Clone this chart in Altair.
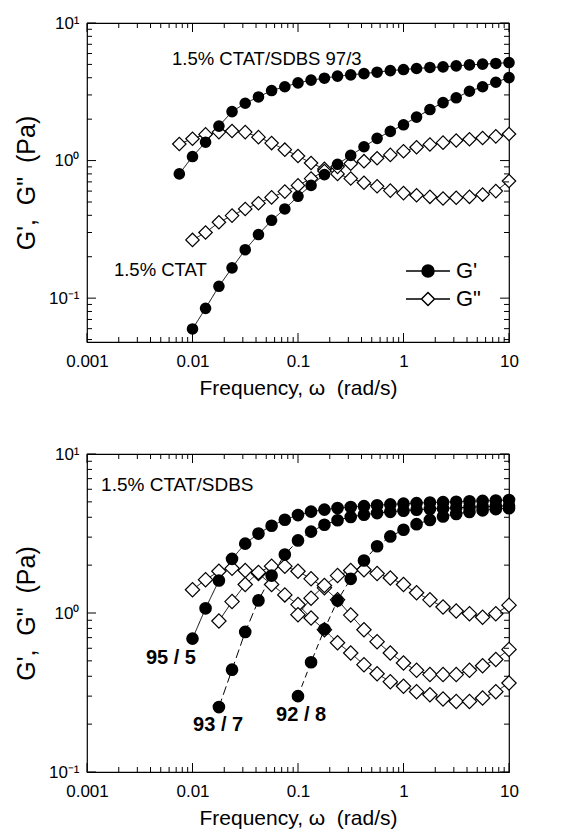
import altair as alt
import pandas as pd

FONT = "Liberation Sans"

# Angular frequencies (rad/s) of the measurement grid
FREQ = [0.0075, 0.01, 0.0133, 0.0178, 0.0237, 0.0316, 0.0422, 0.0562, 0.075, 0.1,
        0.133, 0.178, 0.237, 0.316, 0.422, 0.562, 0.75, 1.0, 1.33, 1.78, 2.37, 3.16,
        4.22, 5.62, 7.5, 10.0]

# ---- top panel ----
SDBS97_GP = [0.80, 1.07, 1.36, 1.78, 2.27, 2.61, 2.90, 3.23, 3.44, 3.67, 3.84, 3.97, 4.11,
             4.20, 4.29, 4.39, 4.51, 4.59, 4.67, 4.75, 4.80, 4.88, 4.96, 5.02, 5.08, 5.16]
SDBS97_GPP = [1.32, 1.44, 1.55, 1.61, 1.64, 1.61, 1.48, 1.34, 1.20, 1.08, 0.96, 0.87, 0.80,
              0.74, 0.69, 0.65, 0.605, 0.58, 0.56, 0.545, 0.53, 0.537, 0.545, 0.566, 0.60, 0.71]
CTAT_GP = [0.0597, 0.0843, 0.122, 0.166, 0.225, 0.290, 0.368, 0.445, 0.55, 0.66, 0.79, 0.94,
           1.09, 1.26, 1.45, 1.63, 1.82, 2.07, 2.35, 2.64, 2.86, 3.19, 3.44, 3.71, 4.01]
CTAT_GPP = [0.265, 0.30, 0.356, 0.398, 0.445, 0.49, 0.54, 0.595, 0.66, 0.74, 0.84, 0.90,
            0.95, 0.99, 1.04, 1.10, 1.17, 1.25, 1.31, 1.35, 1.40, 1.43, 1.46, 1.50, 1.56]

# ---- bottom panel ----
S95_GP = [0.69, 1.07, 1.60, 2.19, 2.73, 3.16, 3.54, 3.86, 4.13, 4.34, 4.47, 4.57, 4.64,
          4.70, 4.76, 4.82, 4.87, 4.91, 4.95, 4.98, 5.01, 5.04, 5.07, 5.10, 5.13]
S95_GPP = [1.40, 1.62, 1.83, 1.91, 1.85, 1.77, 1.51, 1.30, 1.13, 0.93, 0.785, 0.65, 0.56,
           0.473, 0.415, 0.37, 0.346, 0.32, 0.306, 0.288, 0.278, 0.278, 0.292, 0.32, 0.363]
S93_GP = [0.256, 0.44, 0.76, 1.20, 1.72, 2.33, 2.86, 3.25, 3.59, 3.83, 4.02, 4.15, 4.25,
          4.33, 4.40, 4.46, 4.51, 4.55, 4.59, 4.63, 4.67, 4.70, 4.73]
S93_GPP = [0.89, 1.18, 1.51, 1.80, 1.97, 1.97, 1.83, 1.64, 1.44, 1.21, 0.97, 0.785, 0.66,
           0.56, 0.485, 0.436, 0.41, 0.41, 0.41, 0.436, 0.466, 0.51, 0.59]
S92_GP = [0.30, 0.49, 0.79, 1.20, 1.64, 2.14, 2.63, 3.03, 3.34, 3.62, 3.85, 4.05, 4.20,
          4.32, 4.42, 4.50, 4.56]
S92_GPP = [0.976, 1.24, 1.49, 1.72, 1.85, 1.87, 1.77, 1.66, 1.51, 1.34, 1.21, 1.09, 1.03,
           0.99, 0.94, 0.99, 1.12]

TOP_CURVES = [("97/3", "G1", "solid", 0, SDBS97_GP), ("97/3", "G2", "solid", 0, SDBS97_GPP),
              ("CTAT", "G1", "solid", 1, CTAT_GP), ("CTAT", "G2", "solid", 1, CTAT_GPP)]
BOT_CURVES = [("95/5", "G1", "solid", 1, S95_GP), ("95/5", "G2", "solid", 1, S95_GPP),
              ("93/7", "G1", "long", 3, S93_GP), ("93/7", "G2", "solid", 3, S93_GPP),
              ("92/8", "G1", "short", 9, S92_GP), ("92/8", "G2", "solid", 9, S92_GPP)]

# annotations (text, frequency, modulus)
TOP_TEXT = [("1.5% CTAT/SDBS 97/3", 0.0064, 5.43), ("1.5% CTAT", 0.0018, 0.161)]
BOT_TEXT = [("1.5% CTAT/SDBS", 0.00136, 6.38)]
BOT_BOLD = [("95 / 5", 0.00625, 0.52), ("93 / 7", 0.0175, 0.198), ("92 / 8", 0.107, 0.228)]

LEGEND_KEYS = ["G'", 'G"']

X_MAJOR = [0.001, 0.01, 0.1, 1, 10]
X_MINOR = [m * 10.0 ** e for e in (-3, -2, -1, 0) for m in range(2, 10)]
Y_MAJOR = [0.1, 1, 10]
Y_MINOR = [m * 10.0 ** e for e in (-2, -1, 0) for m in range(2, 10)]

W = 422
MAJ, MIN = 9, 5
NB = "\u00a0"

Y_LABELS = "datum.value == 10 ? '10\u00b9' : (datum.value == 1 ? '10\u2070' : '10\u207b\u00b9')"
X_TITLE = "Frequency, \u03c9" + NB + NB + "(rad/s)"
Y_TITLE = "G'," + NB + NB + "G\"" + NB + NB + "(Pa)"

CIRCLE_PATH = "M-2.2,0H-0.6M0.6,0H2.2M0.6,0A0.6,0.6,0,1,1,-0.6,0A0.6,0.6,0,1,1,0.6,0Z"
DIAMOND_PATH = "M-2.2,0H-0.65M0.65,0H2.2M0,-0.65L0.65,0L0,0.65L-0.65,0Z"


def build_df(curves):
    rows = []
    for name, mod, dash, start, vals in curves:
        for f, v in zip(FREQ[start:], vals):
            rows.append({"x": f, "y": v, "curve": name + mod, "mod": mod, "dash": dash})
    return pd.DataFrame(rows)


def panel(curves, texts, bold, ydom, H, legend, csize, dsize, tsize):
    df = build_df(curves)
    xs = alt.Scale(type="log", domain=[0.001, 10], nice=False)
    ys = alt.Scale(type="log", domain=ydom, nice=False)
    xax = alt.Axis(values=X_MAJOR, labelExpr="format(datum.value, '~g')", title=X_TITLE)
    yax = alt.Axis(values=Y_MAJOR, labelExpr=Y_LABELS, title=Y_TITLE)
    X = alt.X("x:Q", scale=xs, axis=xax)
    Y = alt.Y("y:Q", scale=ys, axis=yax)
    base = alt.Chart(df)
    lines = base.mark_line(color="black", strokeWidth=1).encode(
        x=X, y=Y, detail="curve:N",
        strokeDash=alt.StrokeDash("dash:N", scale=alt.Scale(domain=["solid", "long", "short"],
                                  range=[[1, 0], [9, 4], [6, 4]]), legend=None))
    diamonds = base.transform_filter("datum.mod == 'G2'").mark_point(
        shape="diamond", filled=True, fill="white", stroke="black", strokeWidth=1.2,
        size=dsize, opacity=1).encode(x=X, y=Y)
    circles = base.transform_filter("datum.mod == 'G1'").mark_circle(
        color="black", size=csize, opacity=1).encode(x=X, y=Y)
    layers = [lines, diamonds, circles]

    tdf = pd.DataFrame(texts, columns=["label", "x", "y"])
    layers.append(alt.Chart(tdf).mark_text(align="left", baseline="middle", font=FONT,
                                           fontSize=tsize, color="black").encode(
        x=X, y=Y, text="label:N"))
    if bold:
        bdf = pd.DataFrame(bold, columns=["label", "x", "y"])
        layers.append(alt.Chart(bdf).mark_text(align="center", baseline="middle", font=FONT,
                                               fontSize=20, fontWeight="bold",
                                               color="black").encode(
            x=X, y=Y, text="label:N"))

    # inward ticks on all four sides
    ymin, ymax = ydom
    xmaj = pd.DataFrame({"x": X_MAJOR})
    xmin = pd.DataFrame({"x": X_MINOR})
    ymaj = pd.DataFrame({"y": [v for v in Y_MAJOR if ymin <= v <= ymax]})
    ymn = pd.DataFrame({"y": [v for v in Y_MINOR if ymin <= v <= ymax]})
    for d, L in ((xmaj, MAJ), (xmin, MIN)):
        layers.append(alt.Chart(d).mark_rule(color="black", strokeWidth=1).encode(
            x=X, y=alt.value(H), y2=alt.value(H - L)))
        layers.append(alt.Chart(d).mark_rule(color="black", strokeWidth=1).encode(
            x=X, y=alt.value(0), y2=alt.value(L)))
    for d, L in ((ymaj, MAJ), (ymn, MIN)):
        layers.append(alt.Chart(d).mark_rule(color="black", strokeWidth=1).encode(
            y=Y, x=alt.value(0), x2=alt.value(L)))
        layers.append(alt.Chart(d).mark_rule(color="black", strokeWidth=1).encode(
            y=Y, x=alt.value(W), x2=alt.value(W - L)))

    if legend:
        ldf = pd.DataFrame({"key": LEGEND_KEYS})
        leg = alt.Legend(orient="none", legendX=330, legendY=237, title=None, symbolSize=400,
                         symbolOpacity=1, labelFont=FONT, labelFontSize=22, labelColor="black",
                         labelOffset=17, rowPadding=6, padding=0)
        layers.append(alt.Chart(ldf).mark_point(filled=True, opacity=0, stroke="black",
                                                strokeWidth=1.2).encode(
            shape=alt.Shape("key:N", scale=alt.Scale(domain=LEGEND_KEYS,
                            range=[CIRCLE_PATH, DIAMOND_PATH]), legend=leg),
            fill=alt.Fill("key:N", scale=alt.Scale(domain=LEGEND_KEYS,
                          range=["black", "white"]), legend=leg)))

    return alt.layer(*layers).properties(width=W, height=H)


top = panel(TOP_CURVES, TOP_TEXT, None, [0.048, 10], 319, True, 135, 180, 18.5)
bottom = panel(BOT_CURVES, BOT_TEXT, BOT_BOLD, [0.1, 10], 318, False, 160, 205, 19)

chart = alt.vconcat(top, bottom, spacing=45).properties(
    padding={"left": 5, "top": 5, "right": 5, "bottom": 5}
).configure_view(stroke="black", strokeWidth=1.2).configure_axis(
    labelFont=FONT, labelFontSize=17, labelColor="black", titleFont=FONT,
    titleFontSize=21, titleFontWeight="normal", titleColor="black", domain=False,
    ticks=False, grid=False, labelFlush=False, labelPadding=11
).configure_axisX(titlePadding=8).configure_axisY(titlePadding=9, titleFontSize=25,
                                                  labelPadding=8)

chart.save("out.html", embed_options={"renderer": "svg", "actions": False})
